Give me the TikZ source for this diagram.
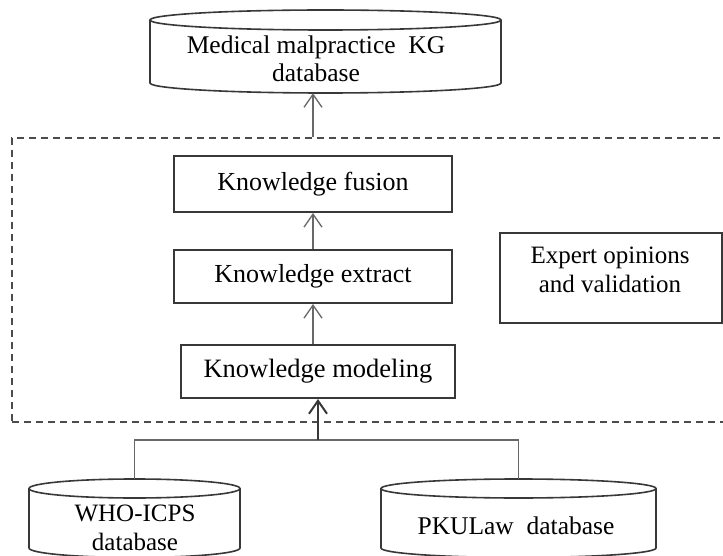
\documentclass[tikz,border=0pt]{standalone}
\usepackage{fontspec}
\setmainfont{Liberation Serif}
\usetikzlibrary{arrows.meta}
\definecolor{edge}{HTML}{383838}
\definecolor{lnk}{HTML}{686868}
\begin{document}
\begin{tikzpicture}[x=1pt,y=1pt,
  box/.style={draw=edge, line width=2pt, inner sep=0pt, font=\fontsize{26}{29}\selectfont},
  txt/.style={align=center, inner sep=0pt, font=\fontsize{25.5}{28}\selectfont},
  holder/.style={inner sep=0pt},
  cyl/.style={draw=edge, line width=1.6pt},
  frame/.style={draw=edge!90, line width=1.5pt, dash pattern=on 7pt off 5pt, inner sep=0pt},
  conn/.style={draw=lnk, line width=1.3pt},
  arr/.style={draw=lnk, line width=1.3pt, -{Straight Barb[length=13pt,width=18pt,line width=1.3pt]}},
  thickarr/.style={draw=edge, line width=2pt, -{Straight Barb[length=13pt,width=18pt,line width=2pt]}}
]
\useasboundingbox (0,0) rectangle (723,-556);

% dashed frame
\node[frame, minimum width=716pt, minimum height=284pt] (frame) at (370,-280) {};

% top cylinder
\node[holder, minimum width=351pt, minimum height=83pt] (kgdb) at (325.5,-51.5) {};
\draw[cyl] (325.5,-20) ellipse [x radius=175.5, y radius=10];
\draw[cyl] (150,-20) -- (150,-83) arc[start angle=180, end angle=360, x radius=175.5, y radius=10] -- (501,-20);
\node[txt] (kgtext) at (316,-58.5) {Medical malpractice\ \ KG\\database};

% process boxes
\node[box, minimum width=278pt, minimum height=56pt] (fusion) at (313,-184) {Knowledge fusion};
\node[box, minimum width=278pt, minimum height=53pt] (extract) at (313,-276.5) {Knowledge extract};
\node[box, minimum width=274pt, minimum height=53pt, font=\fontsize{26.5}{29}\selectfont] (modeling) at (318,-371.5) {Knowledge modeling};

% expert box
\node[box, minimum width=222pt, minimum height=90pt] (expert) at (611,-278) {};
\node[txt, font=\fontsize{25}{29}\selectfont] (experttext) at (610,-269.5) {Expert opinions\\and validation};

% bottom cylinders
\node[holder, minimum width=211pt, minimum height=78pt] (who) at (134.5,-518) {};
\draw[cyl] (134.5,-488.5) ellipse [x radius=105.5, y radius=9.5];
\draw[cyl] (29,-488.5) -- (29,-548) arc[start angle=180, end angle=360, x radius=105.5, y radius=9.5] -- (240,-488.5);
\node[txt, font=\fontsize{25}{29}\selectfont] (whotext) at (135,-527.5) {WHO-ICPS\\database};

\node[holder, minimum width=275pt, minimum height=78pt] (pku) at (518.5,-518) {};
\draw[cyl] (518.5,-488.5) ellipse [x radius=137.5, y radius=9.5];
\draw[cyl] (381,-488.5) -- (381,-548) arc[start angle=180, end angle=360, x radius=137.5, y radius=9.5] -- (656,-488.5);
\node[txt] (pkutext) at (516,-526) {PKULaw\ \ database};

% connectors
\draw[arr] (frame.north -| fusion.north) -- (kgdb.south -| fusion.north);
\draw[arr] (extract.north) -- (fusion.south);
\draw[arr] (modeling.north -| extract.south) -- (extract.south);
\coordinate (j) at (modeling.south |- 0,-440);
\draw[conn] (who.north) |- (j) -| (pku.north);
\draw[thickarr] (j) -- (modeling.south);
\end{tikzpicture}
\end{document}
